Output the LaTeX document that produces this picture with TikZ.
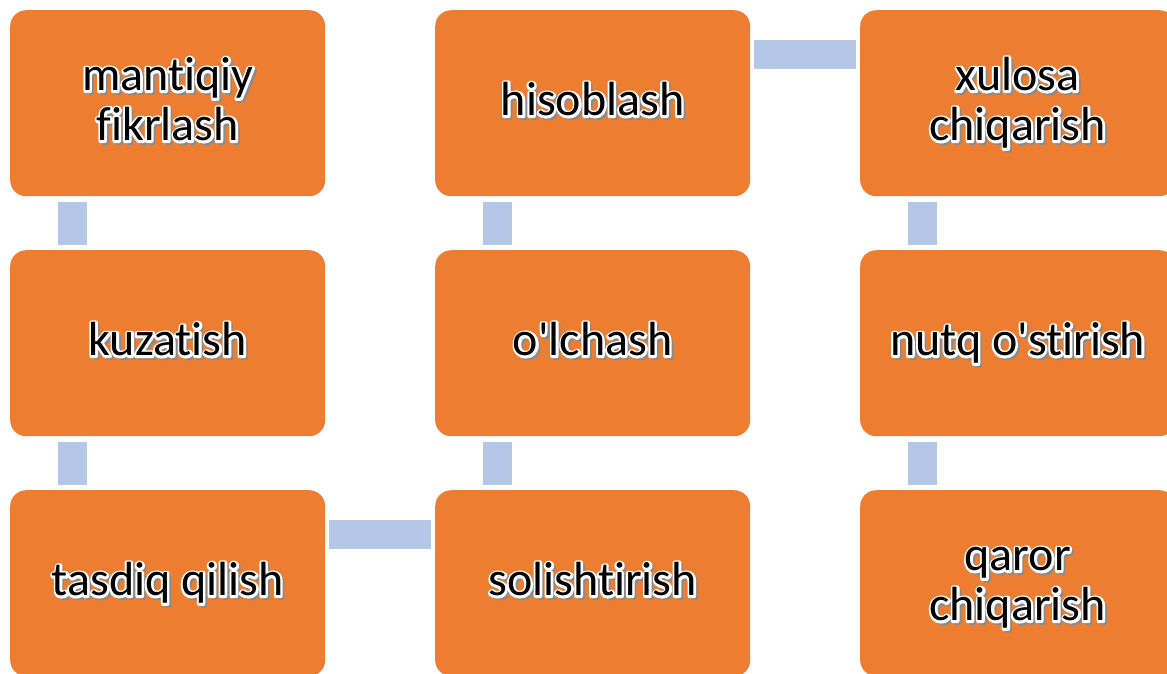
\documentclass[tikz,border=0pt]{standalone}
\usepackage{fontspec}
\usetikzlibrary{calc}
\newfontfamily\boxfont[RawFeature={-liga;-clig;-calt;-dlig}]{Carlito}
\definecolor{boxorange}{HTML}{ED7D31}
\definecolor{barblue}{HTML}{B4C7E7}
\definecolor{txtshadow}{HTML}{8A8A8A}
\newcommand\txtblock[1]{\begin{tabular}{@{}c@{}}#1\end{tabular}}
\newcommand\fancytxt[1]{\raisebox{-4pt}[\height][\depth]{%
  \rlap{\hspace*{2.5pt}\raisebox{-2.5pt}{\textcolor{txtshadow}{\special{pdf:literal direct 0.54 0.54 0.54 RG 2 Tr 3 w 1 j}\txtblock{#1}\special{pdf:literal direct 0 Tr}}}}%
  \rlap{\textcolor{white}{\special{pdf:literal direct 1 1 1 RG 1 Tr 4.5 w 1 j}\txtblock{#1}\special{pdf:literal direct 0 Tr 0.4 w 0 j}}}%
  \textcolor{black}{\txtblock{#1}}}}
\tikzset{
  stepbox/.style={draw=none, fill=boxorange, rounded corners=16pt, minimum width=315pt,
    minimum height=186pt, inner sep=0pt, anchor=north west,
    font=\boxfont\fontsize{48}{50}\selectfont},
  bar/.style={draw=barblue, line width=29pt}
}
\begin{document}
\begin{tikzpicture}[x=1pt,y=-1pt]
\useasboundingbox (0,0) rectangle (1167,673);
\clip (0,0) rectangle (1167,673);
\node[stepbox] (m) at (10,10) {\fancytxt{mantiqiy\\fikrlash}};
\node[stepbox] (k) at (10,250) {\fancytxt{kuzatish}};
\node[stepbox] (t) at (10,490) {\fancytxt{tasdiq qilish}};
\node[stepbox] (h) at (435,10) {\fancytxt{hisoblash}};
\node[stepbox] (o) at (435,250) {\fancytxt{o'lchash}};
\node[stepbox] (s) at (435,490) {\fancytxt{solishtirish}};
\node[stepbox] (x) at (860,10) {\fancytxt{xulosa\\chiqarish}};
\node[stepbox] (n) at (860,250) {\fancytxt{nutq o'stirish}};
\node[stepbox] (q) at (860,490) {\fancytxt{qaror\\chiqarish}};
\draw[bar] ($(m.south west)+(62.5,5.5)$) -- ($(k.north west)+(62.5,-5.5)$);
\draw[bar] ($(k.south west)+(62.5,5.5)$) -- ($(t.north west)+(62.5,-5.5)$);
\draw[bar] ($(t.north east)+(4,44.5)$) -- ($(s.north west)+(-4,44.5)$);
\draw[bar] ($(s.north west)+(62.5,-5.5)$) -- ($(o.south west)+(62.5,5.5)$);
\draw[bar] ($(o.north west)+(62.5,-5.5)$) -- ($(h.south west)+(62.5,5.5)$);
\draw[bar] ($(h.north east)+(4,44.5)$) -- ($(x.north west)+(-4,44.5)$);
\draw[bar] ($(x.south west)+(62.5,5.5)$) -- ($(n.north west)+(62.5,-5.5)$);
\draw[bar] ($(n.south west)+(62.5,5.5)$) -- ($(q.north west)+(62.5,-5.5)$);
\end{tikzpicture}
\end{document}
